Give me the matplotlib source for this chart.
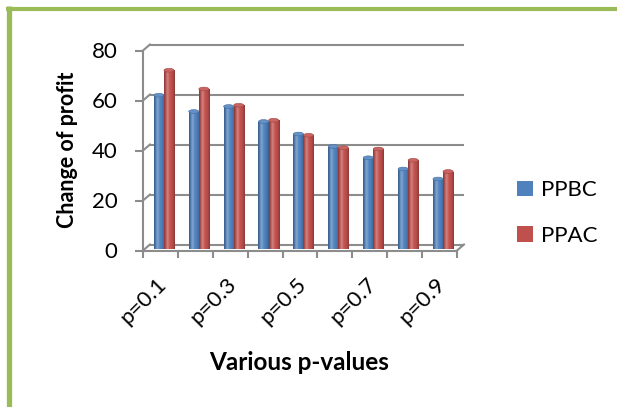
import numpy as np
import matplotlib
matplotlib.use("Agg")
import matplotlib.pyplot as plt
from matplotlib.patches import Patch, Ellipse
from matplotlib.lines import Line2D
from matplotlib.transforms import ScaledTranslation
import matplotlib.colors as mcolors

# --- data -------------------------------------------------------------
categories = ["p=0.1", "p=0.2", "p=0.3", "p=0.4", "p=0.5",
              "p=0.6", "p=0.7", "p=0.8", "p=0.9"]
ppbc = [61.5, 55, 57, 51, 46, 41, 36.5, 32, 28]
ppac = [71.5, 64, 57.5, 51.5, 45.5, 40.5, 40, 35.5, 31]
series_names = ["PPBC", "PPAC"]
y_ticks = [0, 20, 40, 60, 80]

# --- style ------------------------------------------------------------
W, H = 617, 407
plt.rcParams['font.family'] = ['Lato', 'DejaVu Sans']
blue = "#4F81BD"
red = "#C0504D"
grid_c = "#8C8C8C"
frame_c = "#9BBB59"

fig = plt.figure(figsize=(W / 100, H / 100), dpi=100)


def px_rect(x0, y0, x1, y1):
    return [x0 / W, 1 - y1 / H, (x1 - x0) / W, (y1 - y0) / H]


ax = fig.add_axes(px_rect(143, 50.5, 457, 250.5))
ax.set_xlim(0.5, 9.5)
ax.set_ylim(0, 80)
for s in ax.spines.values():
    s.set_visible(False)
ax.patch.set_visible(False)

# depth offsets of the pseudo-3D box (data units)
DX, DY = 0.2, 2.4
lw = 1.5

# back wall gridlines and the side connectors
for yv in y_ticks:
    ax.plot([0.5 + DX, 9.5 + DX], [yv + DY, yv + DY], color=grid_c, lw=lw,
            clip_on=False, zorder=1, solid_capstyle='butt')
    ax.plot([0.5, 0.5 + DX], [yv, yv + DY], color=grid_c, lw=lw,
            clip_on=False, zorder=1)
# front vertical axis and floor edge
ax.plot([0.5, 0.5], [0, 80], color=grid_c, lw=lw, clip_on=False, zorder=1)
ax.plot([0.5, 9.5], [0, 0], color=grid_c, lw=lw, clip_on=False, zorder=4)
ax.plot([9.5, 9.5 + DX], [0, DY], color=grid_c, lw=lw, clip_on=False, zorder=4)


def cylinder_image(base, n=40):
    rgb = np.array(mcolors.to_rgb(base))
    t = np.linspace(0, 1, n)
    shade = 0.70 + 0.32 * np.sin(np.pi * t) ** 0.7
    cols = np.clip(rgb[None, :] * shade[:, None], 0, 1)
    hl = 0.28 * np.exp(-((t - 0.32) / 0.14) ** 2)
    cols = cols + (1 - cols) * hl[:, None]
    return cols[None, :, :]


bw = 0.29
x = np.arange(1, len(categories) + 1)
for vals, col, shift in [(ppbc, blue, -bw / 2), (ppac, red, bw / 2)]:
    bars = ax.bar(x + shift + DX / 2, vals, width=bw, bottom=DY / 4,
                  color=col, zorder=2)
    img = cylinder_image(col)
    for b in bars:
        x0, y0 = b.get_x(), b.get_y()
        w, h = b.get_width(), b.get_height()
        im = ax.imshow(img, extent=[x0, x0 + w, y0, y0 + h], aspect='auto',
                       zorder=2.5, interpolation='bilinear')
        im.set_clip_path(b)
        top_rgb = np.array(mcolors.to_rgb(col))
        top_rgb = top_rgb + (1 - top_rgb) * 0.12
        ax.add_patch(Ellipse((x0 + w / 2, y0 + h), w, 1.5, facecolor=top_rgb,
                             edgecolor=np.array(mcolors.to_rgb(col)) * 0.85,
                             lw=0.4, zorder=3))
ax.set_xlim(0.5, 9.5)
ax.set_ylim(0, 80)

# y axis ticks
ax.set_yticks(y_ticks)
ax.tick_params(axis='y', length=5.5, width=lw, color=grid_c, pad=13,
               labelsize=16, labelcolor='black')

# x axis: boundary ticks and every other category label
ax.set_xticks(x[::2])
ax.set_xticklabels(categories[::2], rotation=45, ha='right', va='center',
                   rotation_mode='anchor', fontsize=16)
ax.set_xticks(np.arange(0.5, 10.0, 1.0), minor=True)
ax.tick_params(axis='x', which='major', length=0, pad=22)
ax.tick_params(axis='x', which='minor', length=5, width=lw, color=grid_c)
shift = ScaledTranslation(3 / 100, 0, fig.dpi_scale_trans)
for lab in ax.get_xticklabels():
    lab.set_transform(lab.get_transform() + shift)

fig.text(67 / W, 1 - 150 / H, "Change of profit", rotation=90, ha='center',
         va='center', fontsize=15.5, fontweight='bold')
fig.text(299 / W, 1 - 362 / H, "Various p-values", ha='center', va='center',
         fontsize=17.5, fontweight='bold')

handles = [Patch(facecolor=blue), Patch(facecolor=red)]
fig.legend(handles, series_names, loc='center left',
           bbox_to_anchor=(517 / W, 1 - 213 / H), frameon=False, fontsize=16,
           handlelength=0.72, handleheight=0.72, handletextpad=0.35,
           labelspacing=1.15, borderaxespad=0, borderpad=0)

# green frame on the left and top edges
fig.add_artist(Line2D([8.5 / W, 8.5 / W], [0, 1 - 6 / H], color=frame_c,
                      lw=3.8, transform=fig.transFigure, solid_capstyle='butt'))
fig.add_artist(Line2D([6 / W, 1], [1 - 8.5 / H, 1 - 8.5 / H], color=frame_c,
                      lw=3.0, transform=fig.transFigure, solid_capstyle='butt'))

fig.savefig("out.png", dpi=100)
